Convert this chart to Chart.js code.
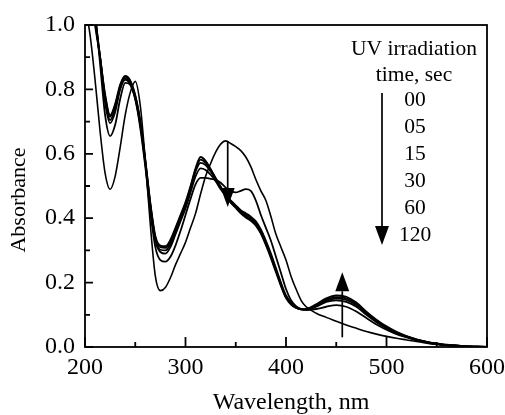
<!DOCTYPE html>
<html>
<head>
<meta charset="utf-8">
<script src="https://cdn.jsdelivr.net/npm/chart.js@4/dist/chart.umd.min.js"></script>
<style>
  html, body { margin: 0; padding: 0; background: #fff; }
  #wrap { width: 505px; height: 415px; }
</style>
</head>
<body>
<div id="wrap"><canvas id="spectra" width="505" height="415"></canvas></div>
<script>
// Wavelength grid (nm)
const wavelength = [200,205,210,215,220,225,230,235,240,245,250,255,260,265,270,275,280,285,290,295,
  300,305,310,315,320,325,330,335,340,345,350,355,360,365,370,375,380,385,390,395,
  400,405,410,415,420,430,440,450,460,470,480,490,500,510,520,530,540,550,560,570,580,590,600];

// Absorbance for each irradiation time (sec)
const abs00 = [1.06,0.97,0.83,0.67,0.54,0.49,0.53,0.62,0.72,0.79,0.825,0.75,0.58,0.38,0.22,0.175,0.185,0.215,0.255,0.29,
  0.325,0.37,0.415,0.475,0.53,0.57,0.605,0.63,0.64,0.632,0.622,0.61,0.59,0.56,0.52,0.485,0.455,0.405,0.35,0.31,
  0.27,0.22,0.18,0.145,0.125,0.105,0.092,0.08,0.068,0.058,0.048,0.04,0.033,0.027,0.022,0.017,0.012,0.008,0.005,0.003,0.001,0.0,0.0];
const abs05 = [1.35,1.18,1.04,0.88,0.72,0.655,0.69,0.77,0.82,0.815,0.77,0.68,0.56,0.42,0.31,0.27,0.265,0.28,0.315,0.36,
  0.41,0.46,0.505,0.525,0.525,0.522,0.52,0.51,0.495,0.485,0.48,0.485,0.49,0.485,0.455,0.41,0.37,0.33,0.28,0.23,
  0.18,0.145,0.127,0.118,0.115,0.118,0.125,0.13,0.125,0.11,0.09,0.07,0.054,0.04,0.03,0.021,0.014,0.009,0.006,0.004,0.002,0.001,0.0];
const abs15 = [1.3,1.16,1.03,0.9,0.76,0.695,0.73,0.8,0.83,0.815,0.77,0.69,0.57,0.43,0.33,0.295,0.29,0.31,0.35,0.39,
  0.43,0.48,0.53,0.555,0.55,0.535,0.515,0.49,0.47,0.455,0.44,0.425,0.415,0.405,0.39,0.365,0.33,0.29,0.245,0.2,
  0.16,0.138,0.125,0.118,0.116,0.125,0.14,0.145,0.14,0.125,0.1,0.077,0.058,0.043,0.031,0.022,0.015,0.01,0.006,0.004,0.002,0.001,0.0];
const abs30 = [1.28,1.14,1.02,0.9,0.77,0.705,0.74,0.805,0.835,0.82,0.775,0.695,0.575,0.44,0.335,0.302,0.3,0.32,0.36,0.4,
  0.44,0.49,0.545,0.572,0.565,0.545,0.52,0.495,0.472,0.452,0.438,0.422,0.41,0.4,0.385,0.36,0.325,0.285,0.24,0.195,
  0.158,0.136,0.123,0.117,0.116,0.127,0.143,0.15,0.146,0.13,0.104,0.08,0.06,0.044,0.032,0.022,0.015,0.01,0.006,0.004,0.002,0.001,0.0];
const abs60 = [1.27,1.13,1.01,0.9,0.78,0.715,0.75,0.81,0.84,0.825,0.78,0.7,0.58,0.445,0.34,0.31,0.308,0.328,0.366,0.405,
  0.445,0.495,0.55,0.582,0.572,0.55,0.523,0.497,0.472,0.45,0.435,0.418,0.405,0.395,0.38,0.355,0.32,0.28,0.236,0.192,
  0.155,0.134,0.122,0.117,0.117,0.13,0.147,0.155,0.151,0.134,0.107,0.082,0.062,0.045,0.033,0.023,0.016,0.01,0.006,0.004,0.002,0.001,0.0];
const abs120 = [1.26,1.12,1.0,0.9,0.785,0.72,0.755,0.815,0.842,0.828,0.782,0.702,0.582,0.448,0.345,0.315,0.313,0.333,0.37,0.41,
  0.45,0.5,0.555,0.59,0.578,0.553,0.525,0.498,0.472,0.448,0.432,0.415,0.402,0.392,0.377,0.352,0.316,0.276,0.232,0.189,
  0.152,0.132,0.121,0.117,0.118,0.133,0.151,0.16,0.156,0.138,0.11,0.085,0.064,0.047,0.034,0.024,0.016,0.011,0.007,0.004,0.002,0.001,0.0];

const seriesNames = ['00', '05', '15', '30', '60', '120'];
const seriesValues = [abs00, abs05, abs15, abs30, abs60, abs120];

// Axis ticks
const xMajorTicks = [200, 300, 400, 500, 600];
const xMinorTicks = [250, 350, 450, 550];
const yMajorTicks = [0, 0.2, 0.4, 0.6, 0.8, 1.0];
const yMinorTicks = [0.1, 0.3, 0.5, 0.7, 0.9];

// Arrows marking band changes: [wavelength, from, to]
const bandArrows = [[342, 0.64, 0.435], [456, 0.03, 0.232]];

const fontFamily = '"Liberation Serif"';

function drawArrow(ctx, x, y1, y2) {
  const dir = y2 > y1 ? 1 : -1;
  const headLen = 19, headW = 7;
  ctx.beginPath();
  ctx.moveTo(x, y1);
  ctx.lineTo(x, y2 - dir * headLen);
  ctx.stroke();
  ctx.beginPath();
  ctx.moveTo(x, y2);
  ctx.lineTo(x - headW, y2 - dir * headLen);
  ctx.lineTo(x + headW, y2 - dir * headLen);
  ctx.closePath();
  ctx.fill();
}

const decorations = {
  id: 'decorations',
  afterDatasetsDraw(chart) {
    const { ctx, chartArea: a, scales: { x, y } } = chart;
    ctx.save();
    ctx.strokeStyle = '#000';
    ctx.fillStyle = '#000';

    // frame
    ctx.lineWidth = 1.8;
    ctx.strokeRect(a.left, a.top, a.right - a.left, a.bottom - a.top);

    // inward ticks on bottom and left
    ctx.beginPath();
    xMajorTicks.forEach(v => { const p = x.getPixelForValue(v); ctx.moveTo(p, a.bottom); ctx.lineTo(p, a.bottom - 10); });
    xMinorTicks.forEach(v => { const p = x.getPixelForValue(v); ctx.moveTo(p, a.bottom); ctx.lineTo(p, a.bottom - 5); });
    yMajorTicks.forEach(v => { const p = y.getPixelForValue(v); ctx.moveTo(a.left, p); ctx.lineTo(a.left + 8, p); });
    yMinorTicks.forEach(v => { const p = y.getPixelForValue(v); ctx.moveTo(a.left, p); ctx.lineTo(a.left + 5, p); });
    ctx.stroke();

    // band arrows
    ctx.lineWidth = 1.7;
    bandArrows.forEach(([wl, from, to]) => {
      drawArrow(ctx, x.getPixelForValue(wl), y.getPixelForValue(from), y.getPixelForValue(to));
    });

    // legend block
    ctx.font = '21.5px ' + fontFamily;
    ctx.textAlign = 'center';
    ctx.textBaseline = 'middle';
    const lx = a.right - 73;
    ctx.fillText('UV irradiation', lx, a.top + 24);
    ctx.fillText('time, sec', lx, a.top + 50);
    seriesNames.forEach((name, i) => {
      ctx.fillText(name, lx + 1, a.top + 75 + i * 27);
    });
    drawArrow(ctx, a.right - 105, a.top + 68, a.top + 220);

    // axis titles
    ctx.font = '24px ' + fontFamily;
    ctx.textBaseline = 'alphabetic';
    ctx.fillText('Wavelength, nm', (a.left + a.right) / 2 + 5, 409);
    ctx.font = '22px ' + fontFamily;
    ctx.textBaseline = 'middle';
    ctx.save();
    ctx.translate(19, 200);
    ctx.rotate(-Math.PI / 2);
    ctx.fillText('Absorbance', 0, 0);
    ctx.restore();

    ctx.restore();
  }
};

const datasets = seriesValues.map((vals, i) => ({
  label: seriesNames[i],
  data: wavelength.map((wl, k) => ({ x: wl, y: vals[k] })),
  borderColor: '#000',
  borderWidth: i === 0 ? 1.6 : 1.8,
  pointRadius: 0,
  fill: false,
  cubicInterpolationMode: 'monotone'
}));

new Chart(document.getElementById('spectra').getContext('2d'), {
  type: 'line',
  data: { datasets },
  options: {
    responsive: false,
    animation: false,
    layout: { padding: { top: 25, right: 18, left: 0, bottom: 0 } },
    plugins: { legend: { display: false }, tooltip: { enabled: false } },
    scales: {
      x: {
        type: 'linear',
        min: 200,
        max: 600,
        afterFit: s => { s.height = 68; s.paddingLeft = 0; s.paddingRight = 0; },
        grid: { display: false, drawTicks: false },
        border: { display: false },
        ticks: {
          stepSize: 100,
          maxRotation: 0,
          padding: 6,
          color: '#000',
          font: { family: fontFamily, size: 24 }
        }
      },
      y: {
        min: 0,
        max: 1,
        afterFit: s => { s.width = 85; s.paddingTop = 0; s.paddingBottom = 0; },
        grid: { display: false, drawTicks: false },
        border: { display: false },
        ticks: {
          stepSize: 0.2,
          padding: 10,
          color: '#000',
          font: { family: fontFamily, size: 24 },
          callback: v => v.toFixed(1)
        }
      }
    }
  },
  plugins: [decorations]
});
</script>
</body>
</html>
